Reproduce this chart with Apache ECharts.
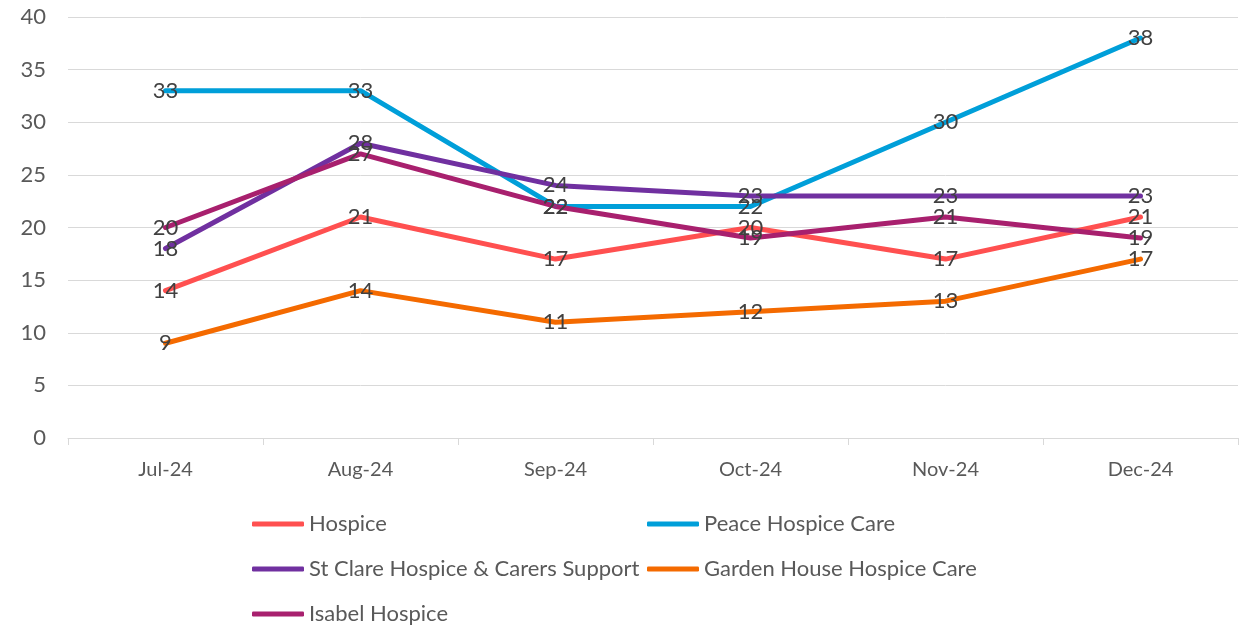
<!DOCTYPE html>
<html>
<head>
<meta charset="utf-8">
<script src="https://cdn.jsdelivr.net/npm/echarts@6/dist/echarts.min.js"></script>
<style>
  html, body { margin: 0; padding: 0; background: #fff; }
  #chart { width: 1243px; height: 627px; }
</style>
</head>
<body>
<div id="chart"></div>
<script>
// categories
var months = ['Jul-24', 'Aug-24', 'Sep-24', 'Oct-24', 'Nov-24', 'Dec-24'];
// series values
var hospice = [14, 21, 17, 20, 17, 21];
var peace = [33, 33, 22, 22, 30, 38];
var stClare = [18, 28, 24, 23, 23, 23];
var gardenHouse = [9, 14, 11, 12, 13, 17];
var isabel = [20, 27, 22, 19, 21, 19];

var names = ['Hospice', 'Peace Hospice Care', 'St Clare Hospice & Carers Support', 'Garden House Hospice Care', 'Isabel Hospice'];
var colors = ['#FF5050', '#009FD9', '#7030A0', '#F46A00', '#A8206E'];
var values = [hospice, peace, stClare, gardenHouse, isabel];

var font = 'Lato, "Open Sans", sans-serif';

var myChart = echarts.init(document.getElementById('chart'));

var seriesList = [];
for (var i = 0; i < names.length; i++) {
  seriesList.push({
    name: names[i],
    type: 'line',
    data: values[i],
    symbol: 'circle',
    symbolSize: 2,
    showSymbol: true,
    lineStyle: { width: 5, color: colors[i], cap: 'round' },
    itemStyle: { color: colors[i] },
    label: {
      show: true,
      position: 'inside',
      color: '#404040',
      fontSize: 22,
      fontFamily: font
    },
    emphasis: { disabled: true }
  });
}

// legend items drawn as thick rounded line segments
var legendText = { fontSize: 22, color: '#595959', fontFamily: font };
function legendItems(idx) {
  return idx.map(function (k) {
    return { name: names[k], icon: 'roundRect', itemStyle: { color: colors[k] } };
  });
}

var optionLine = {
  animation: false,
  grid: {
    left: 68,
    right: 5,
    top: 17,
    bottom: 189
  },
  legend: [
    {
      data: legendItems([0, 2, 4]),
      orient: 'vertical',
      left: 247,
      top: 508,
      height: 160,
      itemWidth: 52,
      itemHeight: 5,
      itemGap: 23,
      textStyle: legendText
    },
    {
      data: legendItems([1, 3]),
      orient: 'vertical',
      left: 642,
      top: 508,
      height: 160,
      itemWidth: 52,
      itemHeight: 5,
      itemGap: 23,
      textStyle: legendText
    }
  ],
  xAxis: {
    type: 'category',
    data: months,
    boundaryGap: true,
    axisLine: { lineStyle: { color: '#d9d9d9', width: 1 } },
    axisTick: { show: true, length: 7, lineStyle: { color: '#d9d9d9' } },
    axisLabel: { color: '#595959', fontSize: 20, fontFamily: font, margin: 22 }
  },
  yAxis: {
    type: 'value',
    min: 0,
    max: 40,
    interval: 5,
    axisLine: { show: false },
    axisTick: { show: false },
    splitLine: { lineStyle: { color: '#d9d9d9', width: 1 } },
    axisLabel: { color: '#595959', fontSize: 22, fontFamily: font, margin: 22 }
  },
  series: seriesList
};

myChart.setOption(optionLine);
</script>
</body>
</html>
